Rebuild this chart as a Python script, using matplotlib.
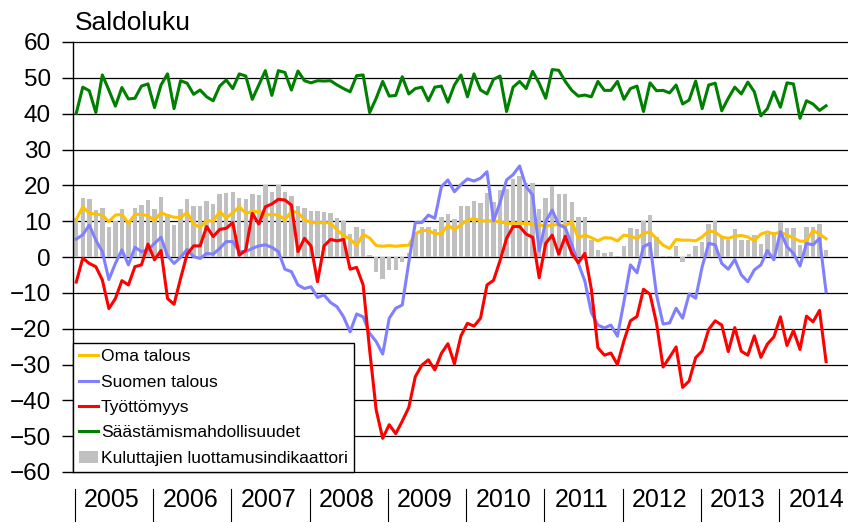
import numpy as np
import matplotlib
matplotlib.use("Agg")
import matplotlib.pyplot as plt
import matplotlib.transforms as mtransforms

plt.rcParams['font.family'] = ['Liberation Sans', 'DejaVu Sans']

# monthly data, Jan 2005 - Aug 2014
years = ['2005', '2006', '2007', '2008', '2009', '2010', '2011', '2012', '2013', '2014']

luottamus = [11, 16.6, 16.2, 13.1, 13.8, 8.5, 10.1, 13.3, 10, 13.8, 14.5, 15.9,
             13.5, 16.8, 12, 9, 13.5, 16.3, 14.3, 14.3, 15.6, 14.7, 17.6, 18,
             18.1, 16.5, 16.1, 17.7, 17.3, 20.2, 18.2, 20.1, 18.2, 17.0, 14.3, 13.8,
             12.8, 12.7, 12.5, 12.4, 10.8, 10, 6.3, 8.5, 7.7, 0.5, -4.1, -6.2,
             -3.6, -3.6, -1.3, 1, 7, 8.3, 8.3, 7.9, 11.3, 12.1, 10.6, 14.2,
             14.2, 15.6, 15.2, 17.8, 15.4, 18.7, 18.9, 21.7, 22.6, 20.6, 20.6, 13.3,
             16.4, 19.9, 17.5, 17.6, 15.3, 11.3, 11.2, 4.8, 2, 1.2, 1.3, 0.2,
             3.1, 8, 7.7, 10.1, 11.7, 5.5, 0.2, 0.3, 3.1, -1.4, 0.7, 3.1,
             4.2, 9.3, 10, 5.8, 4.8, 7.7, 4.7, 4.7, 6.1, 3.5, 6.3, 7.1,
             9.9, 8, 8.2, 3.4, 8.5, 8.5, 9.2, 2]

oma = [10.5, 14, 12.2, 12, 11.7, 9.9, 11.7, 11.9, 9.4, 11.9, 11.9, 11.5,
       10.2, 12.4, 11.6, 11.1, 11.0, 12.4, 9.2, 8.3, 10.2, 10, 12.7, 10.8,
       12.4, 14, 12.2, 12.7, 12.7, 11.7, 11.9, 11.7, 10.4, 12.7, 12.4, 10.4,
       9.6, 9.6, 9.6, 9.5, 7.5, 6, 5, 3.2, 6.3, 5.3, 3.2, 3,
       3.2, 3, 3.2, 3.3, 6.5, 7.4, 7.4, 6.5, 6.5, 8.9, 7.6, 9,
       10.3, 10.7, 10.1, 10.1, 10.1, 9.8, 9.4, 9.4, 9.5, 9.3, 9.2, 9.0,
       8.6, 9, 9, 8.6, 9.9, 5.3, 6.1, 5.4, 4.5, 5.4, 5.3, 4.5,
       6.1, 5.8, 5.1, 6.6, 7.0, 5.1, 3.3, 2.4, 4.9, 4.7, 4.7, 4.5,
       5.6, 7.3, 6.9, 5.6, 5.2, 5.8, 6, 5.6, 4.5, 6.4, 7, 6.4,
       7.0, 6.1, 5.3, 4.4, 4.5, 7.4, 6.4, 5.1]

suomi = [5.0, 6.2, 8.9, 4.7, 1.5, -6.3, -1.8, 2.0, -2.2, 2.7, 1.5, 2.0,
         3.8, 5.5, 0.3, -1.8, -0.1, 2.1, 0.1, -0.4, 1.0, 0.8, 2.4, 4.3,
         4.3, 1.5, 1.5, 2.4, 3.1, 3.4, 2.7, 1.5, -3.4, -4.1, -7.8, -8.8,
         -8.3, -11.3, -10.6, -12.7, -13.9, -16.7, -20.9, -15.9, -16.7, -21.3, -23.6, -27.1,
         -17.1, -14.3, -13.4, -1.5, 9.6, 9.6, 11.7, 10.8, 19.6, 21.5, 18.2, 20.2,
         21.8, 21.2, 22, 23.8, 10.1, 15.2, 21.5, 23, 25.4, 19.6, 17.3, 1.7,
         9.9, 13.1, 9.0, 8.2, 3.4, -1.8, -6.7, -15.5, -19, -19.8, -19, -22.1,
         -12.5, -2.2, -4.4, 2.9, 3.8, -10.6, -18.7, -18.4, -14.3, -17.1, -10.3, -11.5,
         -2.7, 3.8, 3.4, -1.8, -3.4, -0.7, -5.0, -6.9, -3.6, -2.2, 1.8, -0.8,
         7.1, 2.9, 1.0, -2.5, 3.8, 3.4, 5.2, -9.7]

tyottomyys = [-7.0, -0.3, -1.8, -2.7, -6.4, -14.4, -11.6, -6.6, -7.8, -2.7, -2.2, 3.6,
              -0.8, 1.8, -11.6, -13.2, -6.0, 0.8, 3.1, 3.1, 8.5, 5.7, 7.7, 8.0,
              9.6, 0.5, 1.9, 12.2, 9.2, 14.0, 14.8, 16.1, 15.9, 14.5, 1.5, 5.2,
              3.1, -6.9, 3.1, 4.9, 4.5, 4.9, -3.4, -2.9, -7.8, -26, -42.7, -50.6,
              -46.8, -49.3, -45.8, -42, -33.4, -30.2, -28.7, -31.5, -26.9, -24.2, -29.8, -22,
              -18.5, -19.3, -17.1, -7.8, -6.5, -1, 5.2, 8.5, 8.5, 6.4, 5.5, -5.8,
              3.8, 6.1, 0.8, 5.8, 1.0, -1.6, 1.0, -9, -25.3, -27.4, -26.8, -30,
              -23.4, -17.8, -16.6, -9.0, -10.4, -18.5, -30.7, -28, -25.1, -36.4, -34.6, -28.1,
              -26.2, -20.2, -17.8, -19, -26.4, -19.7, -26.3, -27.4, -22, -28, -24.3, -22.3,
              -16.7, -24.7, -20.5, -25.8, -16.5, -18.1, -14.9, -29.2]

saasto = [40.1, 47.4, 46.4, 40.3, 50.8, 46.6, 42.1, 47.3, 44.1, 44.3, 47.7, 48.3,
          41.7, 48.0, 51.1, 41.4, 49.2, 48.5, 45.4, 46.6, 44.7, 43.6, 47.7, 49.4,
          47.0, 51.1, 50.5, 44.0, 48.0, 52.0, 45.1, 52.0, 51.5, 46.6, 51.9, 49.2,
          48.6, 49.2, 49.1, 49.2, 48.0, 47.0, 46.1, 50.6, 50.8, 40.3, 44.3, 49.0,
          44.9, 45.1, 50.3, 45.5, 47.0, 47.4, 43.6, 47.4, 47.7, 43.2, 48.0, 50.8,
          44.7, 51.1, 46.6, 45.5, 49.6, 50.5, 40.6, 47.4, 49.0, 47.0, 51.8, 48.5,
          44.3, 52.3, 52.1, 49.0, 46.5, 44.9, 45.2, 44.7, 49.0, 46.5, 46.5, 49.0,
          44.0, 47.0, 47.7, 40.6, 48.6, 46.4, 46.5, 45.8, 48.0, 42.7, 43.8, 49.1,
          41.4, 48.0, 48.5, 40.8, 44.3, 47.4, 45.5, 48.8, 46.1, 39.4, 41.4, 46.1,
          41.8, 48.6, 48.3, 38.7, 43.6, 42.7, 40.9, 42.2]

x = np.arange(len(oma))

fig = plt.figure(figsize=(8.48, 5.23), dpi=100)
ax = fig.add_axes([73/848, 51/523, 775/848, 430/523])

b0 = ax.bar(x, luottamus, width=0.68, color='#C0C0C0', zorder=2)
l1, = ax.plot(x, oma, color='#FFC000', lw=2.2, zorder=3)
l2, = ax.plot(x, suomi, color='#8080FF', lw=2.2, zorder=3)
l3, = ax.plot(x, tyottomyys, color='#FF0000', lw=2.2, zorder=3)
l4, = ax.plot(x, saasto, color='#008000', lw=2.2, zorder=3)

ax.set_xlim(-0.5, -0.5 + 775/6.52)
ax.set_ylim(-60, 60)
ax.set_yticks(np.arange(-60, 61, 10))
ax.set_xticks([])
ax.tick_params(axis='y', labelsize=17.5, length=8, width=1, pad=8, color='black')
for v in range(-60, 61, 10):
    ax.axhline(v, color='black', lw=0.9, zorder=0, clip_on=False)
for s in ['top', 'right', 'bottom']:
    ax.spines[s].set_visible(False)
ax.spines['left'].set_linewidth(1)
ax.spines['left'].set_zorder(4)

leg = ax.legend([l1, l2, l3, l4, b0],
                ['Oma talous', 'Suomen talous', 'Työttömyys',
                 'Säästämismahdollisuudet', 'Kuluttajien luottamusindikaattori'],
                loc='lower left', bbox_to_anchor=(0, 0), borderaxespad=0,
                fontsize=12.6, frameon=True, fancybox=False, framealpha=1,
                edgecolor='black', handlelength=1.1, handletextpad=0.15,
                labelspacing=0.58, borderpad=0.35)
leg.get_frame().set_linewidth(1)
leg.set_zorder(5)

fig.text(75/848, (523-30)/523, 'Saldoluku', fontsize=19, va='baseline', ha='left')

trans = mtransforms.blended_transform_factory(ax.transData, fig.transFigure)
for k, yr in enumerate(years):
    ax.text(12*k + 5.5, (523-500)/523, yr, transform=trans, ha='center', va='center',
            fontsize=18, clip_on=False)
    ax.plot([12*k - 0.2, 12*k - 0.2], [(523-489)/523, (523-521)/523], transform=trans,
            color='black', lw=0.8, clip_on=False)

fig.savefig('out.png', dpi=100)
